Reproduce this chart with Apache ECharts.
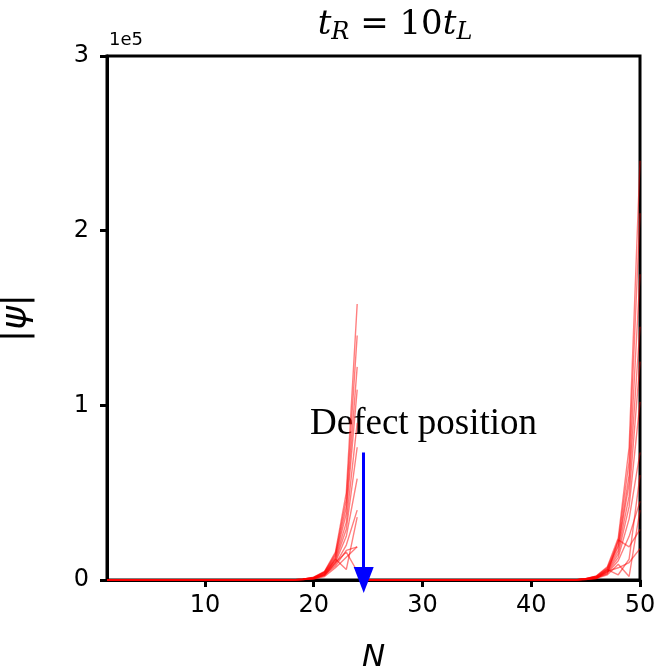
<!DOCTYPE html>
<html>
<head>
<meta charset="utf-8">
<script src="https://cdn.jsdelivr.net/npm/echarts@6/dist/echarts.min.js"></script>
<style>
  html, body { margin: 0; padding: 0; background: #fff; }
  #chart { width: 657px; height: 671px; }
</style>
</head>
<body>
<div id="chart"></div>
<script>
// |psi| of the eigenstates, in units of 1e5
// left chain (sites 1..24): values at sites 19..24, zero below
const leftStart = 19;
const leftProfiles = [
  [0.005, 0.016, 0.05, 0.16, 0.50, 1.58],
  [0.005, 0.015, 0.047, 0.15, 0.46, 1.40],
  [0.004, 0.014, 0.045, 0.14, 0.42, 1.22],
  [0.004, 0.013, 0.042, 0.13, 0.38, 1.09],
  [0.004, 0.012, 0.04, 0.12, 0.33, 0.90],
  [0.003, 0.011, 0.037, 0.11, 0.29, 0.76],
  [0.003, 0.010, 0.034, 0.10, 0.25, 0.58],
  [0.003, 0.009, 0.030, 0.09, 0.20, 0.40],
  [0.002, 0.008, 0.028, 0.08, 0.17, 0.19],
  [0.002, 0.008, 0.030, 0.12, 0.06, 0.36],
  [0.002, 0.007, 0.025, 0.10, 0.16, 0.05],
  [0.002, 0.006, 0.020, 0.07, 0.13, 0.19]
];
// right chain (sites 25..50): values at sites 45..50, zero below
const rightStart = 45;
const rightProfiles = [
  [0.008, 0.024, 0.076, 0.24, 0.76, 2.40],
  [0.007, 0.022, 0.070, 0.22, 0.68, 2.10],
  [0.007, 0.020, 0.065, 0.20, 0.60, 1.75],
  [0.006, 0.020, 0.060, 0.19, 0.55, 1.45],
  [0.006, 0.018, 0.055, 0.17, 0.48, 1.25],
  [0.005, 0.016, 0.050, 0.15, 0.42, 1.02],
  [0.005, 0.015, 0.045, 0.13, 0.35, 0.73],
  [0.004, 0.012, 0.040, 0.11, 0.25, 0.45],
  [0.004, 0.012, 0.035, 0.23, 0.19, 0.29],
  [0.003, 0.010, 0.060, 0.03, 0.12, 0.60],
  [0.003, 0.010, 0.030, 0.09, 0.02, 0.40],
  [0.002, 0.008, 0.050, 0.07, 0.10, 0.18]
];
const leftSites = [1, 24];
const rightSites = [25, 50];
const scale = 1e5;

const xTicks = [10, 20, 30, 40, 50];
const yTicks = [0, 1, 2, 3];

const defectSite = 24.6;
const arrowTop = 0.73;
const labelPos = [30.1, 0.89];

function chainData(range, start, prof) {
  const out = [];
  for (let n = range[0]; n <= range[1]; n++) {
    const v = n >= start ? prof[n - start] : 0;
    out.push([n, v * scale]);
  }
  return out;
}

const lineStyle = { color: 'rgba(255,0,0,0.5)', width: 1.4 };
const series = [];
leftProfiles.forEach(p => series.push({
  type: 'line', data: chainData(leftSites, leftStart, p),
  showSymbol: false, lineStyle: lineStyle, silent: true
}));
rightProfiles.forEach(p => series.push({
  type: 'line', data: chainData(rightSites, rightStart, p),
  showSymbol: false, lineStyle: lineStyle, silent: true
}));

// defect arrow
series.push({
  type: 'line', data: [], silent: true,
  markLine: {
    silent: true, animation: false,
    symbol: ['none', 'triangle'], symbolSize: [20, 26], symbolOffset: [0, 0],
    lineStyle: { color: '#0000ff', width: 3, type: 'solid' },
    label: { show: false },
    data: [[{ coord: [defectSite, arrowTop * scale] }, { coord: [defectSite, 0] }]]
  }
});
series.push({
  type: 'scatter', symbolSize: 0, silent: true,
  itemStyle: { opacity: 1 },
  data: [[labelPos[0], labelPos[1] * scale]],
  label: {
    show: true, position: 'inside', formatter: 'Defect position',
    fontFamily: 'Liberation Serif', fontSize: 37, color: '#000000', opacity: 1
  }
});

const font = 'DejaVu Sans';
const serif = 'DejaVu Serif';
const chart = echarts.init(document.getElementById('chart'), null, { renderer: 'canvas' });
chart.setOption({
  animation: false,
  backgroundColor: '#fff',
  title: {
    text: '{i|t}{s|R}{n| = 10}{i|t}{s|L}',
    left: 390, top: 0, textAlign: 'center',
    textStyle: {
      fontWeight: 'normal',
      rich: {
        i: { fontFamily: serif, fontStyle: 'italic', fontWeight: 'normal', fontSize: 34, color: '#000' },
        n: { fontFamily: serif, fontWeight: 'normal', fontSize: 34, color: '#000' },
        s: { fontFamily: serif, fontStyle: 'italic', fontWeight: 'normal', fontSize: 24, color: '#000', padding: [16, 0, 0, 0] }
      }
    }
  },
  graphic: [{
    type: 'text', left: 109, top: 31,
    style: { text: '1e5', font: '18px "DejaVu Sans"', fill: '#000' }
  }],
  grid: {
    left: 107, right: 17, top: 56, bottom: 91,
    outerBoundsMode: 'none', containLabel: false,
    show: true, borderColor: '#000', borderWidth: 3, backgroundColor: 'transparent'
  },
  xAxis: {
    type: 'value', min: 1, max: 50,
    name: 'N', nameLocation: 'middle', nameGap: 62,
    nameTextStyle: { fontFamily: font, fontStyle: 'italic', fontSize: 31, color: '#000' },
    axisLine: { show: true, onZero: false, lineStyle: { color: '#000', width: 3 } },
    axisTick: { show: true, length: 7, lineStyle: { color: '#000', width: 3 }, customValues: xTicks },
    axisLabel: { fontFamily: font, fontSize: 24, color: '#000', margin: 14, customValues: xTicks },
    splitLine: { show: false }
  },
  yAxis: {
    type: 'value', min: yTicks[0] * scale, max: yTicks[yTicks.length - 1] * scale, interval: scale,
    name: '|ψ|', nameLocation: 'middle', nameGap: 72,
    nameTextStyle: { fontFamily: font, fontStyle: 'italic', fontSize: 36, color: '#000' },
    axisLine: { show: true, lineStyle: { color: '#000', width: 3 } },
    axisTick: { show: true, length: 7, lineStyle: { color: '#000', width: 3 } },
    axisLabel: { fontFamily: font, fontSize: 24, color: '#000', margin: 18, formatter: v => String(v / scale) },
    splitLine: { show: false }
  },
  series: series
});
</script>
</body>
</html>
